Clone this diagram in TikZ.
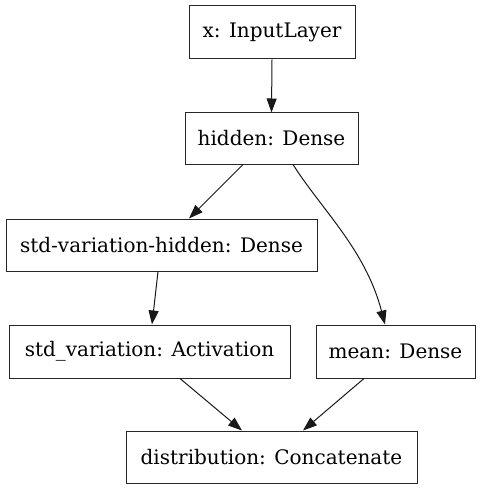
\documentclass[tikz,border=0pt]{standalone}
\usepackage{fontspec}
\setmainfont{DejaVu Serif}
\usetikzlibrary{arrows.meta,calc}
\begin{document}
\begin{tikzpicture}[x=1pt,y=-1pt,
  layer/.style={draw=black!85,line width=1pt,rectangle,inner sep=0pt,anchor=center,font=\fontsize{20}{24}\selectfont},
  edge/.style={draw=black!90,line width=1pt,-{Triangle[length=14pt,width=10pt]}}]
\useasboundingbox (0,0) rectangle (481,489);
\node[layer,minimum width=166pt,minimum height=53pt] (x) at (272,32.5) {x: InputLayer};
\node[layer,minimum width=173pt,minimum height=51pt] (hidden) at (271.5,138.5) {hidden: Dense};
\node[layer,minimum width=311pt,minimum height=52pt] (svh) at (161.5,245) {std-variation-hidden: Dense};
\node[layer,minimum width=281pt,minimum height=53pt] (sv) at (149.5,351.5) {std\_variation: Activation};
\node[layer,minimum width=159pt,minimum height=53pt] (mean) at (395.5,351.5) {mean: Dense};
\node[layer,minimum width=291pt,minimum height=52pt] (dist) at (271.5,457) {distribution: Concatenate};
\draw[edge] (x.south) -- (hidden.north);
\draw[edge] ($(hidden.south)+(-28.5,0)$) -- ($(svh.north)+(27.5,0)$);
\draw[edge] ($(hidden.south)+(21.5,0)$) .. controls ($(hidden.south)+(50,45)$) and ($(mean.north)+(-30,-75)$) .. ($(mean.north)+(-10.5,0)$);
\draw[edge] ($(svh.south)+(-3.5,0)$) -- ($(sv.north)+(2.5,0)$);
\draw[edge] ($(sv.south)+(30.5,0)$) -- ($(dist.north)+(-29.5,0)$);
\draw[edge] ($(mean.south)+(-31.5,0)$) -- ($(dist.north)+(31.5,0)$);
\end{tikzpicture}
\end{document}
